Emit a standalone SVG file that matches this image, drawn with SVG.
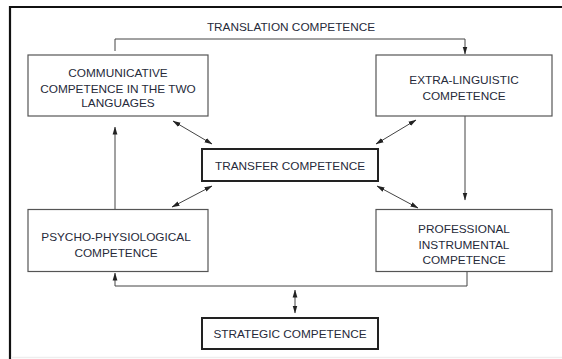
<svg xmlns="http://www.w3.org/2000/svg" width="562" height="359" viewBox="0 0 562 359">
<style>
.t{font-family:"Liberation Sans",Arial,sans-serif;font-size:11.8px;fill:#262a3a;text-anchor:middle}
.box{fill:#fff;stroke:#555;stroke-width:1.2}
.bold{fill:#fff;stroke:#222;stroke-width:2}
.c{fill:none;stroke:#444;stroke-width:1}
</style>
<defs>
<marker id="ah" markerWidth="8" markerHeight="6" refX="7.5" refY="3" orient="auto-start-reverse" markerUnits="userSpaceOnUse">
<path d="M0,0.6 L8,3 L0,5.4 Z" fill="#222"/>
</marker>
</defs>
<rect width="562" height="359" fill="#fff"/>
<g id="frame">
<line x1="10" y1="7" x2="562" y2="7" stroke="#111" stroke-width="2.2"/>
<line x1="10" y1="6" x2="10" y2="359" stroke="#111" stroke-width="2.2"/>
<line x1="11" y1="357.5" x2="562" y2="357.5" stroke="#eee" stroke-width="1.5"/>
</g>
<g id="title"><text class="t" x="291" y="31">TRANSLATION COMPETENCE</text></g>
<g id="connectors">
<polyline class="c" points="115,51 115,39 465,39 465,54" marker-end="url(#ah)"/>
<line class="c" x1="465" y1="116" x2="465" y2="200" marker-end="url(#ah)"/>
<line class="c" x1="115" y1="209" x2="115" y2="127" marker-end="url(#ah)"/>
<polyline class="c" points="467,272 467,286 115,286 115,273" marker-end="url(#ah)"/>
<line class="c" x1="173" y1="121" x2="212" y2="144" marker-start="url(#ah)" marker-end="url(#ah)"/>
<line class="c" x1="416" y1="120" x2="376" y2="144" marker-start="url(#ah)" marker-end="url(#ah)"/>
<line class="c" x1="212" y1="186" x2="172" y2="207" marker-start="url(#ah)" marker-end="url(#ah)"/>
<line class="c" x1="377" y1="186" x2="418" y2="208" marker-start="url(#ah)" marker-end="url(#ah)"/>
<line class="c" x1="295" y1="290" x2="295" y2="313" marker-start="url(#ah)" marker-end="url(#ah)"/>
</g>
<g id="communicative">
<rect class="box" x="28" y="55" width="180" height="61"/>
<text class="t" x="118" y="77">COMMUNICATIVE</text>
<text class="t" x="118" y="92.5">COMPETENCE IN THE TWO</text>
<text class="t" x="118" y="107">LANGUAGES</text>
</g>
<g id="extralinguistic">
<rect class="box" x="376" y="55" width="176" height="61"/>
<text class="t" x="464" y="84">EXTRA-LINGUISTIC</text>
<text class="t" x="464" y="99.5">COMPETENCE</text>
</g>
<g id="transfer">
<rect class="bold" x="202" y="149" width="176" height="32"/>
<text class="t" x="290" y="170">TRANSFER COMPETENCE</text>
</g>
<g id="psycho">
<rect class="box" x="28" y="209.5" width="180" height="62"/>
<text class="t" x="116" y="241">PSYCHO-PHYSIOLOGICAL</text>
<text class="t" x="116" y="256.5">COMPETENCE</text>
</g>
<g id="professional">
<rect class="box" x="376" y="209.5" width="176" height="62"/>
<text class="t" x="464" y="233">PROFESSIONAL</text>
<text class="t" x="464" y="248.5">INSTRUMENTAL</text>
<text class="t" x="464" y="264">COMPETENCE</text>
</g>
<g id="strategic">
<rect class="bold" x="202" y="318" width="176" height="31"/>
<text class="t" x="290" y="337.5">STRATEGIC COMPETENCE</text>
</g>
</svg>
